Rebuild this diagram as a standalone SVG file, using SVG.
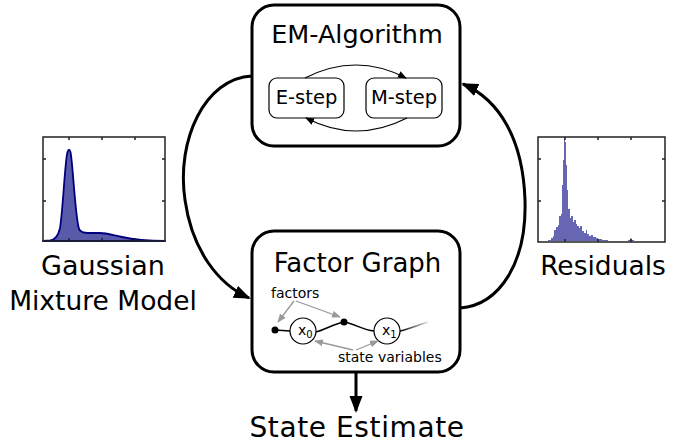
<svg xmlns="http://www.w3.org/2000/svg" width="683" height="444" viewBox="0 0 683 444">
<defs>
<style>
.box{fill:#fff;stroke:#000;stroke-width:3}
.sub{fill:#fff;stroke:#000;stroke-width:1.2}
.t{font-family:"DejaVu Sans",sans-serif;fill:#000}
.conn{fill:none;stroke:#000;stroke-width:3}
.thin{fill:none;stroke:#000;stroke-width:1.2}
.gray{fill:none;stroke:#999;stroke-width:1.3}
.frame{fill:none;stroke:#222;stroke-width:1.5}
.tick{stroke:#222;stroke-width:1.5}
</style>
<marker id="big" markerUnits="userSpaceOnUse" markerWidth="18" markerHeight="14" refX="15" refY="6.5" orient="auto" viewBox="0 0 18 14">
<path d="M0,0 L17,6.5 L0,13 z" fill="#000"/>
</marker>
<marker id="small" markerUnits="userSpaceOnUse" markerWidth="10" markerHeight="8" refX="8" refY="3.5" orient="auto" viewBox="0 0 10 8">
<path d="M0,0 L9,3.5 L0,7 z" fill="#000"/>
</marker>
<marker id="grayarr" markerUnits="userSpaceOnUse" markerWidth="10" markerHeight="8" refX="8" refY="3.5" orient="auto" viewBox="0 0 10 8">
<path d="M0,0 L9,3.5 L0,7 z" fill="#999"/>
</marker>
<linearGradient id="fade" x1="0" y1="0" x2="1" y2="0">
<stop offset="0" stop-color="#000"/>
<stop offset="1" stop-color="#000" stop-opacity="0.1"/>
</linearGradient>
</defs>
<rect width="683" height="444" fill="#fff"/>

<g id="connectors">
<path class="conn" d="M252,76 C205,78 176,140 185,200 C192,250 218,284 249,298" marker-end="url(#big)"/>
<path class="conn" d="M460,308 C500,305 527,262 525,200 C523,140 500,100 463,84" marker-end="url(#big)"/>
<path class="conn" d="M356,372 L356,411" marker-end="url(#big)"/>
</g>

<g id="em-algorithm">
<rect class="box" x="252" y="5" width="208" height="141" rx="22"/>
<text class="t" x="357" y="43" font-size="25.5" text-anchor="middle">EM-Algorithm</text>
<g id="e-step">
<rect class="sub" x="269" y="78" width="75" height="40" rx="8"/>
<text class="t" x="306.5" y="104" font-size="19.5" text-anchor="middle">E-step</text>
</g>
<g id="m-step">
<rect class="sub" x="366" y="78" width="76" height="40" rx="8"/>
<text class="t" x="404" y="104" font-size="19.5" text-anchor="middle">M-step</text>
</g>
<path class="thin" d="M305,78 Q356,52 406,78" marker-end="url(#small)"/>
<path class="thin" d="M407,118 Q356,144 306,118" marker-end="url(#small)"/>
</g>

<g id="factor-graph">
<rect class="box" x="252" y="231" width="208" height="141" rx="22"/>
<text class="t" x="357.5" y="272" font-size="26" text-anchor="middle">Factor Graph</text>
<path d="M275,330 L290,331" stroke="#000" stroke-width="1.5" fill="none"/>
<path d="M316,332 C325,330 333,324 344,322" stroke="#000" stroke-width="1.5" fill="none"/>
<path d="M344,322 C355,324 363,330 374,331" stroke="#000" stroke-width="1.5" fill="none"/>
<path d="M400,331 C410,329 418,325 428,322" stroke="url(#fade)" stroke-width="1.5" fill="none"/>
<circle cx="275" cy="330" r="3.5" fill="#000"/>
<circle cx="344" cy="322" r="3.5" fill="#000"/>
<circle cx="303" cy="331" r="13" fill="#fff" stroke="#000" stroke-width="1.2"/>
<circle cx="387" cy="331" r="13" fill="#fff" stroke="#000" stroke-width="1.2"/>
<text class="t" x="298" y="335" font-size="14">x<tspan font-size="10" dy="3">0</tspan></text>
<text class="t" x="382" y="335" font-size="14">x<tspan font-size="10" dy="3">1</tspan></text>
<text class="t" x="271" y="298" font-size="14">factors</text>
<text class="t" x="338" y="362" font-size="14">state variables</text>
<path class="gray" d="M294,301 L278,322" marker-end="url(#grayarr)"/>
<path class="gray" d="M296,301 L340,317" marker-end="url(#grayarr)"/>
<path class="gray" d="M353,350 L315,341" marker-end="url(#grayarr)"/>
<path class="gray" d="M356,350 L378,341" marker-end="url(#grayarr)"/>
</g>

<g id="gaussian-mixture-model">
<path d="M43,241 L50,240.5 C55,240 58,237 60,228 C63,210 65,160 67.5,152 C68.5,149 69.5,149 70.5,152 C73,165 75,215 79,229 C80.5,232 83,233 88,233 L100,233 C107,233 112,235 122,237 C133,239.5 145,241 165,241 Z" fill="#5a5aaa" stroke="#00007f" stroke-width="1.8" stroke-linejoin="round"/>
<rect class="frame" x="43" y="137" width="122" height="104"/>
<path class="tick" d="M69,137 v3 M102,137 v3 M135,137 v3 M69,241 v-3 M102,241 v-3 M135,241 v-3 M43,159 h3 M43,201 h3 M165,159 h-3 M165,201 h-3"/>
<text class="t" x="103" y="275" font-size="27" text-anchor="middle">Gaussian</text>
<text class="t" x="103" y="310" font-size="26.5" text-anchor="middle">Mixture Model</text>
</g>

<g id="residuals">
<path fill="#6666b3" d="M548,241 L548,240 L551,240 L551,238 L553,238 L553,236 L554,236 L554,230 L556,230 L556,227 L558,227 L558,225 L559,225 L559,216 L561,216 L561,214 L562,214 L562,185 L563,185 L563,160 L564,160 L564,137 L565,137 L565,142 L566,142 L566,165 L567,165 L567,190 L568,190 L568,209 L570,209 L570,218 L571,218 L571,216 L573,216 L573,222 L574,222 L574,220 L576,220 L576,224 L577,224 L577,226 L579,226 L579,228 L580,228 L580,226 L582,226 L582,231 L584,231 L584,233 L586,233 L586,230 L587,230 L587,234 L589,234 L589,236 L591,236 L591,235 L593,235 L593,237 L596,237 L596,238 L598,238 L598,239 L602,239 L602,240 L608,240 L608,241 L628,241 L628,240 L630,240 L630,238.5 L632,238.5 L632,240 L634,240 L634,241 Z"/>
<rect class="frame" x="538" y="137" width="127" height="105"/>
<path class="tick" d="M565,137 v3 M598,137 v3 M631,137 v3 M565,242 v-3 M598,242 v-3 M631,242 v-3 M538,159 h3 M538,201 h3 M665,159 h-3 M665,201 h-3"/>
<text class="t" x="603" y="275" font-size="26.5" text-anchor="middle">Residuals</text>
</g>

<g id="state-estimate">
<text class="t" x="357" y="437" font-size="28" letter-spacing="0.6" text-anchor="middle">State Estimate</text>
</g>
</svg>
